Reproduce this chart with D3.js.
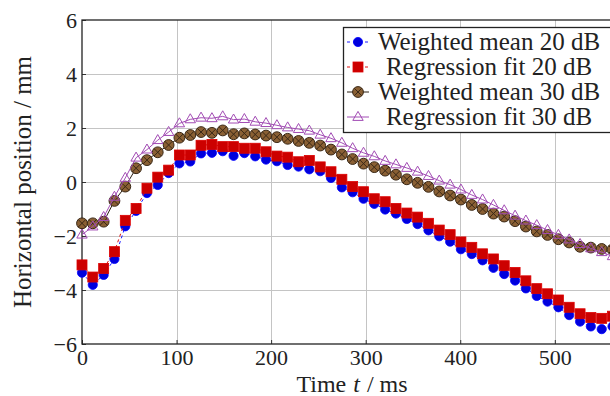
<!DOCTYPE html>
<html>
<head>
<meta charset="utf-8">
<script src="https://cdn.jsdelivr.net/npm/d3@7/dist/d3.min.js"></script>
<style>
  html, body { margin: 0; padding: 0; background: #fff; }
  svg { display: block; }
  svg text { font-family: "Liberation Serif", "Times New Roman", "DejaVu Serif", "Noto Serif", Times, serif !important; fill: #222; }
</style>
</head>
<body>
<svg id="chart" width="610" height="396"></svg>
<script>
// sample times (ms)
var timesMs = [0, 11.4, 22.9, 34.3, 45.8, 57.2, 68.7, 80.1, 91.6, 103.0,
    114.5, 125.9, 137.4, 148.8, 160.3, 171.7, 183.2, 194.6, 206.1, 217.5,
    229.0, 240.4, 251.9, 263.3, 274.8, 286.2, 297.7, 309.1, 320.6, 332.0,
    343.5, 354.9, 366.4, 377.8, 389.3, 400.7, 412.2, 423.6, 435.1, 446.5,
    458.0, 469.4, 480.9, 492.3, 503.8, 515.2, 526.7, 538.1, 549.6, 561.0];

var weightedMean20 = [-3.36, -3.81, -3.44, -2.85, -1.64, -1.07, -0.41, -0.11, 0.33, 0.69,
    0.76, 1.06, 1.08, 1.14, 0.97, 1.07, 0.95, 0.83, 0.77, 0.63,
    0.57, 0.47, 0.40, 0.15, -0.20, -0.38, -0.62, -0.81, -1.02, -1.17,
    -1.37, -1.56, -1.79, -2.01, -2.21, -2.49, -2.67, -2.90, -3.18, -3.41,
    -3.65, -3.94, -4.22, -4.43, -4.64, -4.93, -5.17, -5.35, -5.45, -5.35];

var regressionFit20 = [-3.07, -3.52, -3.20, -2.58, -1.42, -0.98, -0.23, 0.18, 0.44, 1.00,
    1.00, 1.36, 1.39, 1.31, 1.31, 1.25, 1.25, 1.12, 0.96, 0.92,
    0.75, 0.80, 0.56, 0.38, 0.10, -0.17, -0.36, -0.62, -0.73, -0.98,
    -1.15, -1.30, -1.53, -1.78, -1.95, -2.22, -2.42, -2.66, -2.85, -3.10,
    -3.35, -3.66, -3.95, -4.14, -4.37, -4.64, -4.88, -5.02, -5.05, -4.97];

var weightedMean30 = [-1.53, -1.53, -1.47, -0.70, -0.17, 0.51, 0.81, 1.10, 1.37, 1.64,
    1.74, 1.85, 1.82, 1.91, 1.77, 1.80, 1.76, 1.72, 1.66, 1.60,
    1.52, 1.45, 1.35, 1.20, 1.02, 0.85, 0.68, 0.55, 0.42, 0.27,
    0.10, -0.03, -0.18, -0.35, -0.50, -0.65, -0.85, -1.00, -1.17, -1.28,
    -1.45, -1.65, -1.83, -1.96, -2.12, -2.24, -2.40, -2.43, -2.48, -2.50];

var regressionFit30 = [-1.95, -1.65, -1.30, -0.55, 0.15, 0.90, 1.20, 1.55, 1.85, 2.17,
    2.32, 2.38, 2.36, 2.43, 2.31, 2.33, 2.23, 2.18, 2.10, 2.02,
    1.96, 1.90, 1.75, 1.62, 1.45, 1.25, 1.08, 0.95, 0.78, 0.65,
    0.52, 0.38, 0.22, 0.05, -0.10, -0.28, -0.48, -0.65, -0.85, -1.05,
    -1.25, -1.43, -1.60, -1.78, -1.96, -2.13, -2.30, -2.46, -2.60, -2.75];

var seriesLabels = ["Weighted mean 20 dB", "Regression fit 20 dB", "Weighted mean 30 dB", "Regression fit 30 dB"];
var xTicks = [0, 100, 200, 300, 400, 500];
var yTicks = [-6, -4, -2, 0, 2, 4, 6];

var serifFont = "'Liberation Serif', 'Times New Roman', 'DejaVu Serif', serif";

var styles = [
    {mark: "circle", line: "#1a1aff", fill: "#0000dd", stroke: "#0000ff", dash: "3,3"},
    {mark: "square", line: "#e01010", fill: "#cc0000", stroke: "#dd0000", dash: "3,3"},
    {mark: "otimes", line: "#2a1e12", fill: "#8a6034", stroke: "#3a2816", dash: null},
    {mark: "triangle", line: "#a24cb4", fill: "none", stroke: "#a24cb4", dash: null}
];

var series = [weightedMean20, regressionFit20, weightedMean30, regressionFit30].map(function(values, i) {
    return {
        label: seriesLabels[i],
        style: styles[i],
        points: values.map(function(v, j) { return {t: timesMs[j], y: v}; })
    };
});

var svg = d3.select("#chart");
var plot = {left: 82, right: 621, top: 20, bottom: 344};

var x = d3.scaleLinear().domain([0, 570]).range([plot.left, plot.right]);
var y = d3.scaleLinear().domain([-6, 6]).range([plot.bottom, plot.top]);

// grid
var grid = svg.append("g").attr("stroke", "#c4c4c4").attr("stroke-width", 1);
grid.selectAll("line.gx").data(xTicks.slice(1)).enter().append("line")
    .attr("x1", function(d) { return Math.round(x(d)) + 0.5; })
    .attr("x2", function(d) { return Math.round(x(d)) + 0.5; })
    .attr("y1", plot.top).attr("y2", plot.bottom);
grid.selectAll("line.gy").data(yTicks.slice(1, -1)).enter().append("line")
    .attr("y1", function(d) { return Math.round(y(d)) + 0.5; })
    .attr("y2", function(d) { return Math.round(y(d)) + 0.5; })
    .attr("x1", plot.left).attr("x2", plot.right);

// axes via d3 axis, ticks drawn inward
var xAxis = svg.append("g")
    .attr("transform", "translate(0," + plot.bottom + ")")
    .call(d3.axisBottom(x).tickValues(xTicks).tickSizeInner(-4).tickSizeOuter(0).tickPadding(5));
var yAxis = svg.append("g")
    .attr("transform", "translate(" + plot.left + ",0)")
    .call(d3.axisLeft(y).tickValues(yTicks).tickSizeInner(-4).tickSizeOuter(0).tickPadding(5)
        .tickFormat(function(d) { return d < 0 ? "\u2212" + Math.abs(d) : d; }));

[xAxis, yAxis].forEach(function(ax) {
    ax.attr("font-family", serifFont);
    ax.select(".domain").remove();
    ax.selectAll(".tick line").attr("stroke", "#333");
    ax.selectAll(".tick text")
        .attr("font-family", serifFont)
        .attr("font-size", 22)
        .attr("fill", "#222");
});
xAxis.selectAll(".tick text").attr("dy", "0.72em");
yAxis.selectAll(".tick text").attr("dy", "0.34em");

// axis box
svg.append("rect")
    .attr("x", plot.left).attr("y", plot.top)
    .attr("width", plot.right - plot.left).attr("height", plot.bottom - plot.top)
    .attr("fill", "none").attr("stroke", "#222").attr("stroke-width", 1.3);

function drawMark(g, kind, st) {
    if (kind === "circle") {
        g.append("circle").attr("r", 4.6).attr("fill", st.fill).attr("stroke", st.stroke).attr("stroke-width", 0.8);
    } else if (kind === "square") {
        g.append("rect").attr("x", -5).attr("y", -5).attr("width", 10).attr("height", 10)
            .attr("fill", st.fill).attr("stroke", st.stroke).attr("stroke-width", 0.8);
    } else if (kind === "otimes") {
        g.append("circle").attr("r", 5.4).attr("fill", st.fill).attr("stroke", st.stroke).attr("stroke-width", 1);
        var k = 5.4 * Math.SQRT1_2;
        g.append("path").attr("d", "M" + (-k) + "," + (-k) + "L" + k + "," + k + "M" + (-k) + "," + k + "L" + k + "," + (-k))
            .attr("stroke", st.stroke).attr("stroke-width", 1);
    } else if (kind === "triangle") {
        g.append("path").attr("d", "M0,-5.6L5.2,3.4L-5.2,3.4Z")
            .attr("fill", st.fill).attr("stroke", st.stroke).attr("stroke-width", 1);
    }
}

var line = d3.line()
    .x(function(d) { return x(d.t); })
    .y(function(d) { return y(d.y); });

series.forEach(function(s) {
    var g = svg.append("g");
    g.append("path")
        .datum(s.points)
        .attr("d", line)
        .attr("fill", "none")
        .attr("stroke", s.style.line)
        .attr("stroke-width", 1)
        .attr("stroke-dasharray", s.style.dash);
    g.selectAll("g.mark").data(s.points).enter().append("g")
        .attr("class", "mark")
        .attr("transform", function(d) { return "translate(" + x(d.t) + "," + y(d.y) + ")"; })
        .each(function() { drawMark(d3.select(this), s.style.mark, s.style); });
});

// legend
var legend = svg.append("g");
var lg = {x: 343, y: 27, w: 268, rowH: 25};
legend.append("rect")
    .attr("x", lg.x + 0.5).attr("y", lg.y + 0.5)
    .attr("width", lg.w).attr("height", lg.rowH * series.length + 5)
    .attr("fill", "#fff").attr("stroke", "#222").attr("stroke-width", 1.3);

series.forEach(function(s, i) {
    var cy = lg.y + 15 + i * lg.rowH;
    var row = legend.append("g");
    row.append("line")
        .attr("x1", lg.x + 4).attr("x2", lg.x + 26)
        .attr("y1", cy).attr("y2", cy)
        .attr("stroke", s.style.line).attr("stroke-width", 1)
        .attr("stroke-dasharray", s.style.dash);
    drawMark(row.append("g").attr("transform", "translate(" + (lg.x + 15) + "," + cy + ")"), s.style.mark, s.style);
    row.append("text")
        .attr("x", 489).attr("y", cy + 8)
        .attr("text-anchor", "middle")
        .attr("font-family", serifFont)
        .attr("font-size", 25)
        .text(s.label);
});

// x axis label: three pieces placed side by side so the italic t keeps its own slot
var xLabelParts = [{s: "Time", italic: false}, {s: "t", italic: true}, {s: "/ ms", italic: false}];
var xLabelGap = 7;
var partNodes = xLabelParts.map(function(p) {
    return svg.append("text")
        .attr("y", 392)
        .attr("font-family", serifFont)
        .attr("font-size", 24)
        .attr("font-style", p.italic ? "italic" : null)
        .text(p.s);
});
var partWidths = partNodes.map(function(n) { return n.node().getComputedTextLength(); });
var totalW = d3.sum(partWidths) + xLabelGap * (partWidths.length - 1);
var cursor = 352 - totalW / 2;
partNodes.forEach(function(n, i) {
    n.attr("x", cursor);
    cursor += partWidths[i] + xLabelGap;
});

svg.append("text")
    .attr("transform", "translate(31," + ((plot.top + plot.bottom) / 2) + ") rotate(-90)")
    .attr("text-anchor", "middle")
    .attr("font-family", serifFont)
    .attr("font-size", 25)
    .text("Horizontal position / mm");
</script>
</body>
</html>
